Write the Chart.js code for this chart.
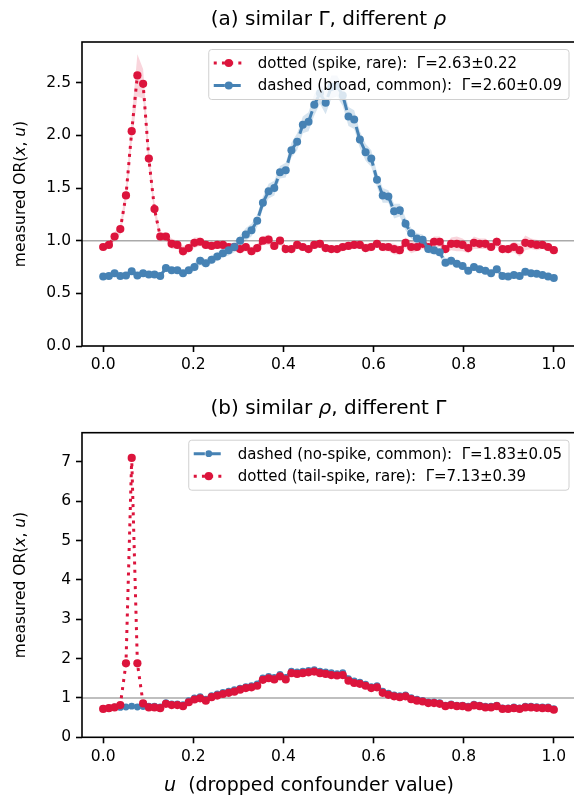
<!DOCTYPE html>
<html>
<head>
<meta charset="utf-8">
<script src="https://cdn.jsdelivr.net/npm/chart.js@4.4.1/dist/chart.umd.min.js"></script>
<style>
  html, body { margin: 0; padding: 0; background: #fff; overflow: hidden; width: 574px; height: 799px; }
  .panel { position: absolute; left: 0; }
  #chartA { top: 0; }
  #chartB { top: 380px; }
</style>
</head>
<body>
<canvas id="chartA" class="panel" width="590" height="380"></canvas>
<canvas id="chartB" class="panel" width="590" height="419"></canvas>
<script>
const FONT = "'DejaVu Sans', sans-serif";
const RED = "#dc143c";
const BLUE = "#4682b4";

// u grid (80 evenly spaced values of the dropped confounder)
const uGrid = [
  0.0000, 0.0127, 0.0253, 0.0380, 0.0506, 0.0633, 0.0759, 0.0886, 0.1013, 0.1139,
  0.1266, 0.1392, 0.1519, 0.1646, 0.1772, 0.1899, 0.2025, 0.2152, 0.2278, 0.2405,
  0.2532, 0.2658, 0.2785, 0.2911, 0.3038, 0.3165, 0.3291, 0.3418, 0.3544, 0.3671,
  0.3797, 0.3924, 0.4051, 0.4177, 0.4304, 0.4430, 0.4557, 0.4684, 0.4810, 0.4937,
  0.5063, 0.5190, 0.5316, 0.5443, 0.5570, 0.5696, 0.5823, 0.5949, 0.6076, 0.6203,
  0.6329, 0.6456, 0.6582, 0.6709, 0.6835, 0.6962, 0.7089, 0.7215, 0.7342, 0.7468,
  0.7595, 0.7722, 0.7848, 0.7975, 0.8101, 0.8228, 0.8354, 0.8481, 0.8608, 0.8734,
  0.8861, 0.8987, 0.9114, 0.9241, 0.9367, 0.9494, 0.9620, 0.9747, 0.9873, 1.0000
];
const xTicks = [0, 0.2, 0.4, 0.6, 0.8, 1.0];
const yTicksA = [0, 0.5, 1.0, 1.5, 2.0, 2.5];
const yTicksB = [0, 1, 2, 3, 4, 5, 6, 7];

// panel (a)
const spikeRareA = [
  0.94, 0.96, 1.04, 1.11, 1.43, 2.04, 2.57, 2.49, 1.78, 1.30,
  1.04, 1.04, 0.97, 0.96, 0.90, 0.93, 0.98, 0.99, 0.96, 0.95,
  0.96, 0.96, 0.94, 0.94, 0.92, 0.94, 0.90, 0.93, 1.00, 1.01,
  0.95, 1.00, 0.92, 0.92, 0.96, 0.94, 0.92, 0.96, 0.97, 0.93,
  0.92, 0.92, 0.94, 0.95, 0.96, 0.96, 0.93, 0.94, 0.97, 0.94,
  0.94, 0.92, 0.91, 0.98, 0.94, 0.94, 0.97, 0.94, 0.99, 0.99,
  0.92, 0.97, 0.97, 0.96, 0.93, 0.98, 0.97, 0.97, 0.94, 0.99,
  0.92, 0.92, 0.94, 0.91, 0.98, 0.97, 0.96, 0.96, 0.94, 0.91
];
const spikeRareErrA = [
  0.03, 0.03, 0.04, 0.05, 0.08, 0.12, 0.20, 0.14, 0.10, 0.06,
  0.04, 0.04, 0.05, 0.04, 0.05, 0.04, 0.05, 0.04, 0.04, 0.03,
  0.04, 0.03, 0.03, 0.04, 0.04, 0.04, 0.04, 0.04, 0.04, 0.05,
  0.03, 0.04, 0.03, 0.03, 0.04, 0.03, 0.03, 0.03, 0.04, 0.03,
  0.03, 0.03, 0.04, 0.03, 0.03, 0.03, 0.04, 0.04, 0.03, 0.04,
  0.04, 0.05, 0.04, 0.05, 0.06, 0.04, 0.05, 0.04, 0.05, 0.05,
  0.04, 0.06, 0.07, 0.06, 0.05, 0.06, 0.05, 0.05, 0.04, 0.05,
  0.04, 0.04, 0.05, 0.06, 0.07, 0.05, 0.05, 0.04, 0.04, 0.03
];
const broadCommonA = [
  0.66, 0.665, 0.69, 0.665, 0.67, 0.71, 0.67, 0.69, 0.68, 0.68,
  0.665, 0.74, 0.72, 0.72, 0.69, 0.72, 0.75, 0.81, 0.785, 0.82,
  0.85, 0.88, 0.91, 0.94, 1.00, 1.06, 1.10, 1.19, 1.36, 1.47,
  1.50, 1.65, 1.67, 1.86, 1.94, 2.10, 2.13, 2.29, 2.40, 2.31,
  2.46, 2.47, 2.38, 2.18, 2.15, 1.96, 1.84, 1.78, 1.58, 1.43,
  1.42, 1.28, 1.29, 1.16, 1.07, 1.02, 1.01, 0.92, 0.91, 0.89,
  0.79, 0.81, 0.78, 0.76, 0.715, 0.75, 0.73, 0.715, 0.69, 0.73,
  0.665, 0.66, 0.675, 0.665, 0.705, 0.69, 0.685, 0.675, 0.66, 0.645
];
const broadCommonErrA = [
  0.02, 0.02, 0.03, 0.02, 0.02, 0.03, 0.02, 0.02, 0.02, 0.03,
  0.02, 0.03, 0.03, 0.03, 0.03, 0.03, 0.04, 0.04, 0.04, 0.04,
  0.04, 0.04, 0.05, 0.05, 0.05, 0.06, 0.06, 0.06, 0.06, 0.07,
  0.07, 0.06, 0.07, 0.07, 0.08, 0.08, 0.09, 0.10, 0.10, 0.11,
  0.11, 0.10, 0.10, 0.09, 0.09, 0.08, 0.08, 0.08, 0.07, 0.07,
  0.06, 0.07, 0.06, 0.06, 0.05, 0.05, 0.05, 0.04, 0.04, 0.04,
  0.04, 0.04, 0.03, 0.03, 0.03, 0.03, 0.03, 0.03, 0.03, 0.03,
  0.03, 0.02, 0.02, 0.02, 0.03, 0.02, 0.02, 0.02, 0.02, 0.02
];

// panel (b)
const noSpikeB = [
  0.73, 0.75, 0.77, 0.76, 0.77, 0.79, 0.77, 0.78, 0.79, 0.79,
  0.77, 0.88, 0.85, 0.85, 0.83, 0.93, 1.00, 1.03, 0.97, 1.06,
  1.10, 1.14, 1.17, 1.21, 1.25, 1.29, 1.31, 1.36, 1.51, 1.55,
  1.52, 1.60, 1.52, 1.68, 1.66, 1.68, 1.70, 1.72, 1.68, 1.66,
  1.64, 1.62, 1.64, 1.49, 1.43, 1.40, 1.35, 1.29, 1.31, 1.17,
  1.12, 1.08, 1.06, 1.08, 1.01, 0.97, 0.94, 0.90, 0.90, 0.88,
  0.82, 0.85, 0.82, 0.82, 0.79, 0.84, 0.82, 0.79, 0.79, 0.82,
  0.75, 0.75, 0.77, 0.75, 0.79, 0.79, 0.78, 0.77, 0.77, 0.73
];
const tailSpikeB = [
  0.72, 0.74, 0.76, 0.82, 1.88, 7.10, 1.88, 0.86, 0.76, 0.76,
  0.74, 0.85, 0.82, 0.82, 0.79, 0.89, 0.96, 0.99, 0.93, 1.02,
  1.06, 1.10, 1.13, 1.16, 1.21, 1.25, 1.27, 1.31, 1.46, 1.50,
  1.47, 1.55, 1.47, 1.63, 1.61, 1.63, 1.65, 1.67, 1.63, 1.61,
  1.58, 1.57, 1.58, 1.44, 1.38, 1.36, 1.31, 1.25, 1.27, 1.13,
  1.08, 1.04, 1.02, 1.04, 0.97, 0.93, 0.91, 0.87, 0.87, 0.85,
  0.79, 0.82, 0.79, 0.79, 0.76, 0.81, 0.79, 0.76, 0.76, 0.79,
  0.72, 0.72, 0.74, 0.72, 0.76, 0.76, 0.75, 0.74, 0.74, 0.70
];

const labelsA = ["dotted (spike, rare):  \u0393=2.63\u00b10.22", "dashed (broad, common):  \u0393=2.60\u00b10.09"];
const labelsB = ["dashed (no-spike, common):  \u0393=1.83\u00b10.05", "dotted (tail-spike, rare):  \u0393=7.13\u00b10.39"];

const pts = ys => uGrid.map((u, i) => ({ x: u, y: ys[i] }));

function series(label, ys, color, dotted, width, radius, order) {
  return {
    label, data: pts(ys), borderColor: color, backgroundColor: color,
    borderWidth: width, borderDash: dotted ? [3, 5.2] : [width * 3.7, width * 1.6],
    pointRadius: radius, pointHoverRadius: radius, pointBorderWidth: 0,
    pointBackgroundColor: color, tension: 0, fill: false, order
  };
}

function band(ys, err, color, order) {
  return [
    { data: pts(ys.map((v, i) => v + err[i])), borderWidth: 0, pointRadius: 0, fill: '+1', backgroundColor: color, order },
    { data: pts(ys.map((v, i) => v - err[i])), borderWidth: 0, pointRadius: 0, fill: false, order }
  ];
}

function drawRich(ctx, segs, x, y, size, rotate) {
  ctx.save();
  ctx.translate(x, y);
  if (rotate) ctx.rotate(-Math.PI / 2);
  const fonts = segs.map(s => (s.i ? 'italic ' : '') + size + 'px ' + FONT);
  let total = 0;
  const ws = segs.map((s, k) => { ctx.font = fonts[k]; const w = ctx.measureText(s.t).width; total += w; return w; });
  let cx = -total / 2;
  ctx.textBaseline = 'middle';
  ctx.textAlign = 'left';
  ctx.fillStyle = '#000';
  segs.forEach((s, k) => { ctx.font = fonts[k]; ctx.fillText(s.t, cx, 0); cx += ws[k]; });
  ctx.restore();
}

function drawLegend(chart, items) {
  const { ctx, chartArea: a } = chart;
  ctx.save();
  ctx.font = '15px ' + FONT;
  const textW = Math.max(...items.map(it => ctx.measureText(it.text).width));
  const w = 49 + textW + 7;
  const h = 50;
  const right = a.right - 6, top = a.top + 7.5, left = right - w;
  ctx.beginPath();
  ctx.roundRect(left, top, w, h, 3);
  ctx.fillStyle = 'rgba(255,255,255,0.8)';
  ctx.fill();
  ctx.strokeStyle = '#d0d0d0';
  ctx.lineWidth = 1;
  ctx.stroke();
  items.forEach((it, k) => {
    const ds = chart.data.datasets[it.ds];
    const cy = top + 13.5 + k * 22.5;
    ctx.strokeStyle = ds.borderColor;
    ctx.lineWidth = ds.borderWidth;
    ctx.setLineDash(ds.borderDash);
    ctx.beginPath();
    ctx.moveTo(left + 5, cy);
    ctx.lineTo(left + 35, cy);
    ctx.stroke();
    ctx.setLineDash([]);
    ctx.fillStyle = ds.borderColor;
    ctx.beginPath();
    ctx.arc(left + 20, cy, ds.pointRadius, 0, Math.PI * 2);
    ctx.fill();
    ctx.fillStyle = '#000';
    ctx.textBaseline = 'middle';
    ctx.textAlign = 'left';
    ctx.fillText(it.text, left + 49, cy + 1);
  });
  ctx.restore();
}

const decor = {
  id: 'decor',
  beforeDatasetsDraw(chart, args, opts) {
    const { ctx, chartArea: a, scales } = chart;
    const py = scales.y.getPixelForValue(opts.refLine);
    ctx.save();
    ctx.strokeStyle = '#aaaaaa';
    ctx.lineWidth = 1.5;
    ctx.beginPath();
    ctx.moveTo(a.left, py);
    ctx.lineTo(a.right, py);
    ctx.stroke();
    ctx.restore();
  },
  afterDraw(chart, args, opts) {
    const { ctx, chartArea: a } = chart;
    ctx.save();
    ctx.strokeStyle = '#000';
    ctx.lineWidth = 1.6;
    ctx.strokeRect(a.left, a.top, a.right - a.left, a.bottom - a.top);
    ctx.restore();
    drawLegend(chart, opts.legend);
    const mid = (a.left + a.right) / 2;
    drawRich(ctx, opts.title, mid, opts.titleY, 20, false);
    drawRich(ctx, opts.ylabel, 21, (a.top + a.bottom) / 2, 15.5, true);
    if (opts.xlabel) drawRich(ctx, opts.xlabel, opts.xlabelX, opts.xlabelY, 19, false);
  }
};

function makeScales(yMax, yTicks, fmt, xAxisH) {
  const tickFont = { family: FONT, size: 15.5 };
  const grid = { drawOnChartArea: false, drawTicks: true, tickLength: 6, tickWidth: 1.6, tickColor: '#000' };
  return {
    x: {
      type: 'linear', min: -0.047, max: 1.047,
      afterBuildTicks: s => { s.ticks = xTicks.map(v => ({ value: v })); },
      afterFit: s => { s.height = xAxisH; },
      grid, border: { display: false },
      ticks: { color: '#000', font: tickFont, padding: 4, maxRotation: 0, autoSkip: false, callback: v => v.toFixed(1) }
    },
    y: {
      type: 'linear', min: 0, max: yMax,
      afterBuildTicks: s => { s.ticks = yTicks.map(v => ({ value: v })); },
      afterFit: s => { s.width = 82; },
      grid, border: { display: false },
      ticks: { color: '#000', font: tickFont, padding: 5, autoSkip: false, callback: fmt }
    }
  };
}

const ylabel = [{ t: 'measured OR(' }, { t: 'x', i: true }, { t: ', ' }, { t: 'u', i: true }, { t: ')' }];

// panel (a): blue drawn over red
new Chart(document.getElementById('chartA'), {
  type: 'line',
  data: {
    datasets: [
      series(labelsA[0], spikeRareA, RED, true, 3, 4.1, 2),
      series(labelsA[1], broadCommonA, BLUE, false, 3, 4, 1),
      ...band(spikeRareA, spikeRareErrA, 'rgba(220,20,60,0.18)', 5),
      ...band(broadCommonA, broadCommonErrA, 'rgba(70,130,180,0.22)', 4)
    ]
  },
  options: {
    responsive: false, animation: false,
    layout: { padding: { top: 42, right: 15, left: 0, bottom: 0 } },
    scales: makeScales(2.887, yTicksA, v => v.toFixed(1), 34),
    plugins: {
      legend: { display: false }, tooltip: { enabled: false },
      decor: {
        refLine: 1,
        legend: [{ text: labelsA[0], ds: 0 }, { text: labelsA[1], ds: 1 }],
        title: [{ t: '(a) similar \u0393, different ' }, { t: '\u03c1', i: true }],
        titleY: 20,
        ylabel
      }
    }
  },
  plugins: [decor]
});

// panel (b): red drawn over blue
new Chart(document.getElementById('chartB'), {
  type: 'line',
  data: {
    datasets: [
      series(labelsB[0], noSpikeB, BLUE, false, 3, 3.4, 2),
      series(labelsB[1], tailSpikeB, RED, true, 3, 4.1, 1)
    ]
  },
  options: {
    responsive: false, animation: false,
    layout: { padding: { top: 52.7, right: 15, left: 0, bottom: 0 } },
    scales: makeScales(7.74, yTicksB, v => String(v), 61.7),
    plugins: {
      legend: { display: false }, tooltip: { enabled: false },
      decor: {
        refLine: 1,
        legend: [{ text: labelsB[0], ds: 0 }, { text: labelsB[1], ds: 1 }],
        title: [{ t: '(b) similar ' }, { t: '\u03c1', i: true }, { t: ', different \u0393' }],
        titleY: 29,
        ylabel,
        xlabel: [{ t: 'u', i: true }, { t: '  (dropped confounder value)' }],
        xlabelX: 309,
        xlabelY: 406
      }
    }
  },
  plugins: [decor]
});
</script>
</body>
</html>
